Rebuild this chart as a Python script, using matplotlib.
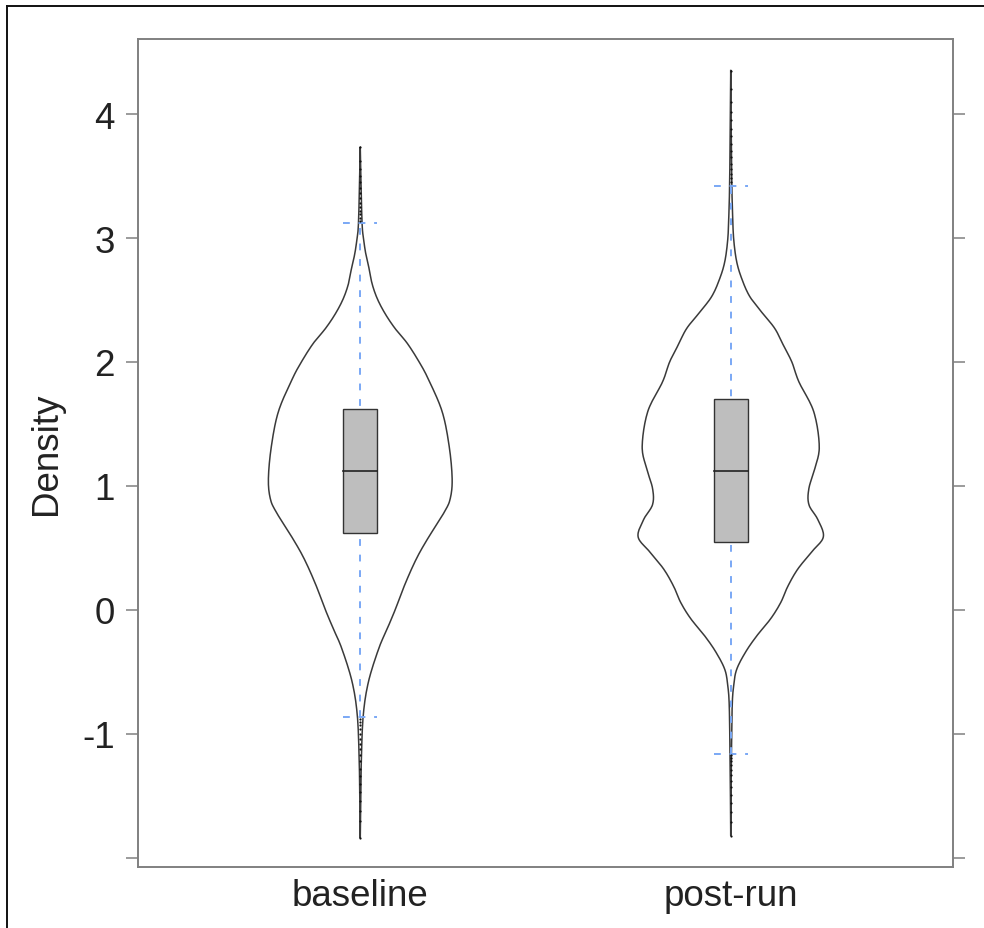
import numpy as np
import matplotlib.pyplot as plt
from matplotlib.lines import Line2D

plt.rcParams['font.family'] = ['Liberation Sans', 'DejaVu Sans']

groups = ['baseline', 'post-run']

# violin outline: y level and half width (x units)
base_y = [3.73, 3.44, 3.11, 2.99, 2.87, 2.75, 2.63, 2.51, 2.39, 2.27, 2.15, 2.00, 1.86,
          1.60, 1.32, 1.06, 0.90, 0.79, 0.57, 0.41, 0.21, 0.00, -0.15, -0.31, -0.58,
          -0.85, -1.20, -1.52, -1.84]
base_w = [0.0, 0.002, 0.005, 0.009, 0.015, 0.024, 0.032, 0.046, 0.067, 0.094, 0.127, 0.159, 0.184,
          0.221, 0.240, 0.248, 0.243, 0.227, 0.181, 0.151, 0.121, 0.094, 0.073, 0.050, 0.022,
          0.008, 0.003, 0.0013, 0.0]
post_y = [4.35, 3.88, 3.43, 3.19, 2.99, 2.81, 2.67, 2.53, 2.40, 2.27, 2.13, 2.00, 1.84,
          1.60, 1.32, 1.14, 0.98, 0.85, 0.73, 0.59, 0.47, 0.33, 0.19, 0.06, -0.07,
          -0.21, -0.34, -0.48, -0.61, -0.77, -1.15, -1.44, -1.82]
post_w = [0.0, 0.0013, 0.003, 0.005, 0.008, 0.016, 0.030, 0.051, 0.084, 0.119, 0.143, 0.165, 0.184,
          0.224, 0.239, 0.227, 0.211, 0.211, 0.235, 0.250, 0.219, 0.181, 0.154, 0.135, 0.108,
          0.070, 0.040, 0.016, 0.008, 0.004, 0.002, 0.001, 0.0]

# box stats: lower whisker, q1, median, q3, upper whisker
base_box = [-0.86, 0.62, 1.12, 1.62, 3.12]
post_box = [-1.16, 0.55, 1.12, 1.70, 3.42]

base_out = [3.14, 3.16, 3.19, 3.22, 3.25, 3.28, 3.32, 3.36, 3.40, 3.45, 3.50, 3.56, 3.62, 3.73,
            -0.88, -0.90, -0.93, -0.96, -1.00, -1.04, -1.08, -1.12, -1.17, -1.22, -1.28,
            -1.34, -1.40, -1.47, -1.54, -1.62, -1.70, -1.84]
post_out = [3.45, 3.48, 3.52, 3.56, 3.60, 3.65, 3.70, 3.76, 3.82, 3.88, 3.95, 4.02, 4.10, 4.20, 4.35,
            -1.17, -1.19, -1.22, -1.25, -1.29, -1.33, -1.38, -1.43, -1.49, -1.56, -1.63,
            -1.71, -1.82]

yticks = [-2, -1, 0, 1, 2, 3, 4]
yticklabels = ['', '-1', '0', '1', '2', '3', '4']


def smooth(ys, ws, n=12):
    # catmull-rom through the read points, just so the outline is not jagged
    p = np.column_stack([ys, ws])
    p = np.vstack([p[0], p, p[-1]])
    out = []
    for k in range(1, len(p) - 2):
        p0, p1, p2, p3 = p[k - 1], p[k], p[k + 1], p[k + 2]
        for t in np.linspace(0, 1, n, endpoint=False):
            t2, t3 = t * t, t * t * t
            out.append(0.5 * (2 * p1 + (-p0 + p2) * t + (2 * p0 - 5 * p1 + 4 * p2 - p3) * t2
                              + (-p0 + 3 * p1 - 3 * p2 + p3) * t3))
    out.append(p[-2])
    out = np.array(out)
    return out[:, 0], np.clip(out[:, 1], 0, None)


fig = plt.figure(figsize=(9.84, 9.29), dpi=100)
ax = fig.add_axes([138 / 984, 61 / 929, 815 / 984, 828 / 929])

violins = [(base_y, base_w), (post_y, post_w)]
boxes = [base_box, post_box]
outs = [base_out, post_out]
bw = 0.046
blue = '#7aa8f5'

for i in range(2):
    pos = i + 1
    vy, vw = smooth(violins[i][0], violins[i][1])
    xs = np.concatenate([pos - vw, (pos + vw)[::-1]])
    ys = np.concatenate([vy, vy[::-1]])
    ax.plot(xs, ys, color='#3a3a3a', lw=1.1, zorder=2)

    lo, q1, med, q3, hi = boxes[i]
    ax.plot([pos, pos], [lo, hi], color=blue, lw=1.4, ls=(0, (3.5, 4.5)), zorder=3)
    for v in (lo, hi):
        ax.plot([pos - bw, pos + bw], [v, v], color=blue, lw=1.4, ls=(0, (3.5, 4.5)), zorder=3)
    ax.add_patch(plt.Rectangle((pos - bw, q1), 2 * bw, q3 - q1, facecolor='#bebebe',
                               edgecolor='#333333', lw=1.0, zorder=4))
    ax.plot([pos - bw, pos + bw], [med, med], color='#222222', lw=1.2, zorder=5)

    ax.scatter([pos] * len(outs[i]), outs[i], s=2.5, color='#111111', zorder=4, linewidths=0)

ax.set_xlim(0.4, 2.6)
ax.set_ylim(-2.073, 4.605)
ax.set_xticks([1, 2])
ax.set_xticklabels(groups, fontsize=26.5)
ax.set_yticks(yticks)
ax.set_yticklabels(yticklabels, fontsize=26.5)
ax.tick_params(axis='x', length=0, pad=8, colors='#222222')
ax.tick_params(axis='y', which='both', left=True, right=True, direction='out', length=8.6,
               width=1.1, color='#808080', labelcolor='#222222', pad=8)
ax.set_ylabel('Density', fontsize=26.5, color='#222222', labelpad=13)
for sp in ax.spines.values():
    sp.set_color('#808080')
    sp.set_linewidth(1.4)

# outer frame (screenshot border, left and top only)
fig.add_artist(Line2D([7 / 984, 7 / 984], [0, 1 - 7 / 929], transform=fig.transFigure,
                      color='#111111', lw=1.4))
fig.add_artist(Line2D([7 / 984, 1], [1 - 7 / 929, 1 - 7 / 929], transform=fig.transFigure,
                      color='#111111', lw=1.4))

fig.savefig('out.png', dpi=100)
